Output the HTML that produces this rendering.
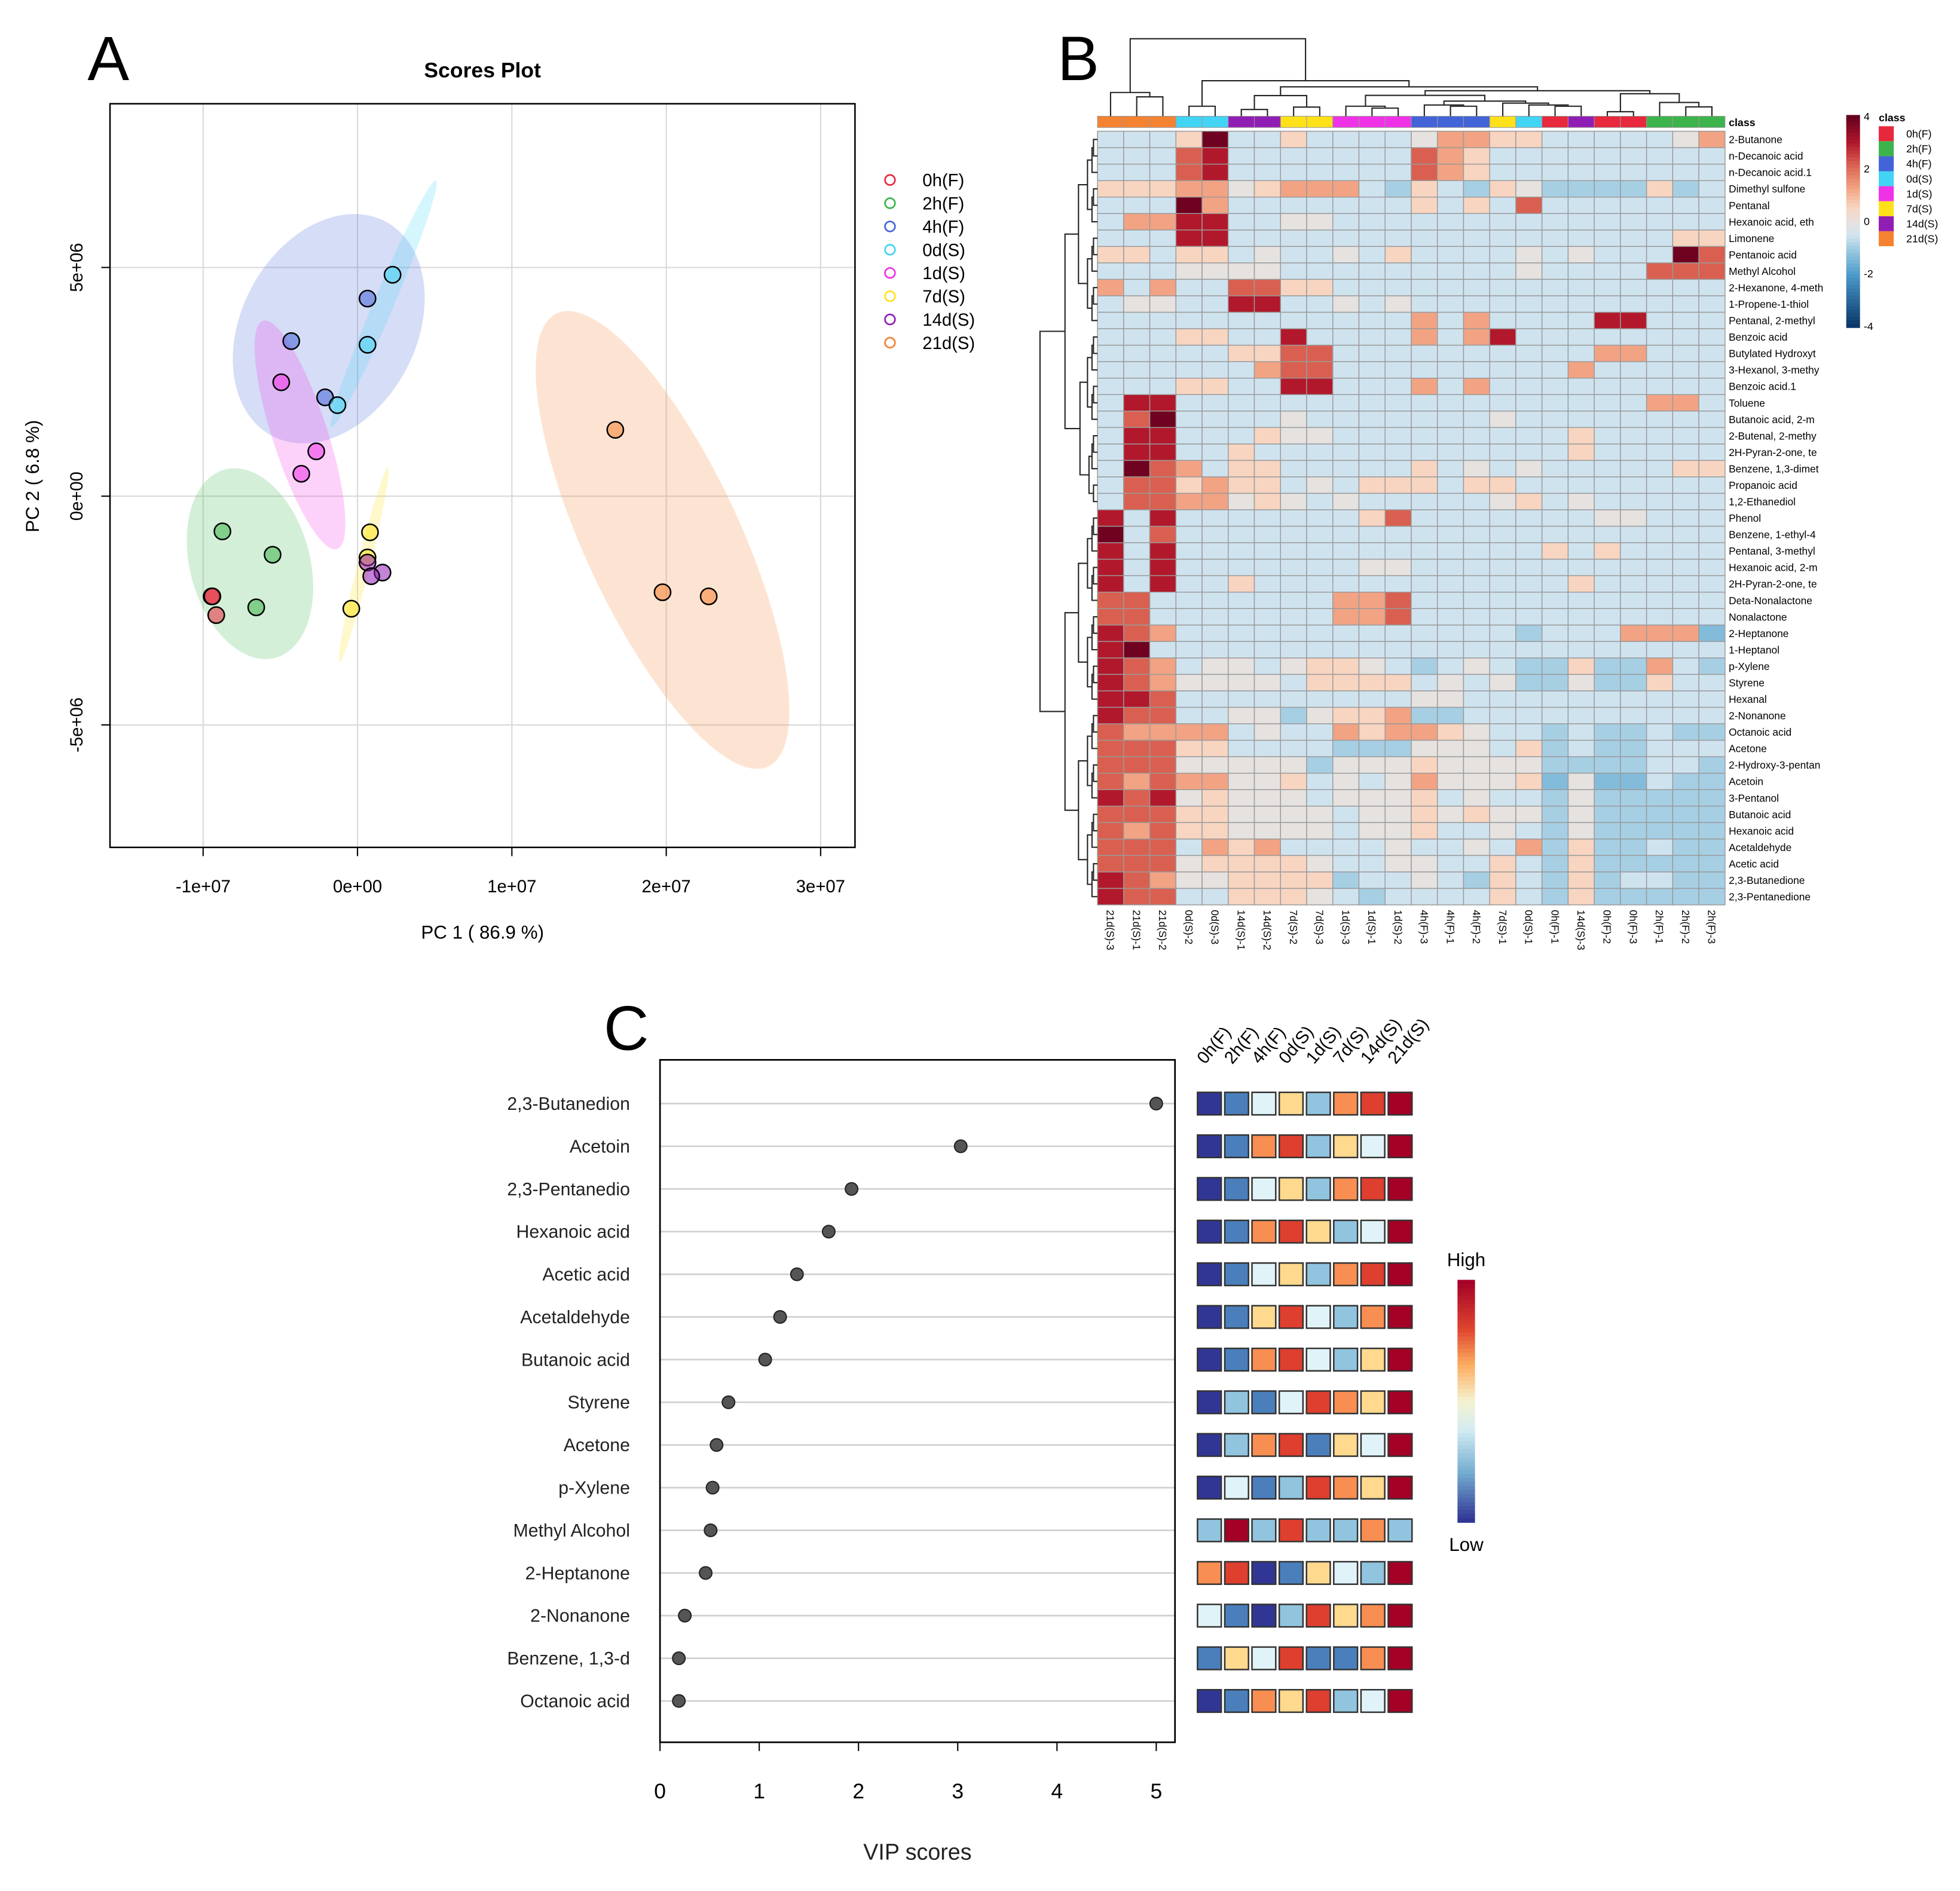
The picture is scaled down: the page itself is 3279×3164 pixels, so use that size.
<!DOCTYPE html>
<html><head><meta charset="utf-8"><style>
html,body{margin:0;padding:0;background:#fff;}
svg{display:block;font-family:"Liberation Sans",Arial,sans-serif;}
</style></head><body>
<svg id="fig" xmlns="http://www.w3.org/2000/svg" width="3279" height="3164" viewBox="0 0 1568 1513" preserveAspectRatio="none">
<rect width="1568" height="1513" fill="#fff"/>
<g id="pA"></g>
<g id="pB"></g>
<g id="pC"></g>
</svg>
<script>
// ---------- Panel A data ----------
const groupNames = ["0h(F)","2h(F)","4h(F)","0d(S)","1d(S)","7d(S)","14d(S)","21d(S)"];
const groupColors = ["#e8283c","#3cb44b","#4363d8","#42d4f4","#f032e6","#ffe119","#911eb4","#f58231"];
const pc1X = [[-9.45,-9.4,-9.15],[-8.75,-5.5,-6.56],[-4.29,0.65,-2.1],[2.27,0.65,-1.3],[-4.94,-2.67,-3.64],[0.81,0.65,-0.4],[0.65,1.62,0.89],[16.7,19.76,22.75]];
const pc2Y = [[-2.19,-2.19,-2.6],[-0.77,-1.28,-2.43],[3.39,4.32,2.16],[4.84,3.31,1.99],[2.49,0.98,0.49],[-0.79,-1.34,-2.46],[-1.45,-1.67,-1.75],[1.45,-2.1,-2.19]];
const xTicksA = [-10,0,10,20,30];
const xTickLabelsA = ["-1e+07","0e+00","1e+07","2e+07","3e+07"];
const yTicksA = [5,0,-5];
const yTickLabelsA = ["5e+06","0e+00","-5e+06"];

// ---------- Panel B data ----------
const hmCols = ["21d(S)-3","21d(S)-1","21d(S)-2","0d(S)-2","0d(S)-3","14d(S)-1","14d(S)-2","7d(S)-2","7d(S)-3","1d(S)-3","1d(S)-1","1d(S)-2","4h(F)-3","4h(F)-1","4h(F)-2","7d(S)-1","0d(S)-1","0h(F)-1","14d(S)-3","0h(F)-2","0h(F)-3","2h(F)-1","2h(F)-2","2h(F)-3"];
const hmColClass = [7,7,7,3,3,6,6,5,5,4,4,4,2,2,2,5,3,0,6,0,0,1,1,1];
const hmRows = ["2-Butanone","n-Decanoic acid","n-Decanoic acid.1","Dimethyl sulfone","Pentanal","Hexanoic acid, eth","Limonene","Pentanoic acid","Methyl Alcohol","2-Hexanone, 4-meth","1-Propene-1-thiol","Pentanal, 2-methyl","Benzoic acid","Butylated Hydroxyt","3-Hexanol, 3-methy","Benzoic acid.1","Toluene","Butanoic acid, 2-m","2-Butenal, 2-methy","2H-Pyran-2-one, te","Benzene, 1,3-dimet","Propanoic acid","1,2-Ethanediol","Phenol","Benzene, 1-ethyl-4","Pentanal, 3-methyl","Hexanoic acid, 2-m","2H-Pyran-2-one, te","Deta-Nonalactone","Nonalactone","2-Heptanone","1-Heptanol","p-Xylene","Styrene","Hexanal","2-Nonanone","Octanoic acid","Acetone","2-Hydroxy-3-pentan","Acetoin","3-Pentanol","Butanoic acid","Hexanoic acid","Acetaldehyde","Acetic acid","2,3-Butanedione","2,3-Pentanedione"];
const hmCodes = [
"...pD..p....woopp.....wo","...rR.......rop.........","...rR.......rop.........","pppoowpooo.bp.bpwbbbbpb.",
"...Do.......p.p.r.......",".ooRR..ww...............","...RR.................pp","pp.pp.w..w.p....w.w...Dr",
"...wwww.........w....rrr","o.o..rrpp...............",".ww..RR..w.w............","............o.o....RR...",
"...pp..R....o.oR........",".....pprr..........oo...","......orr.........o.....","...pp..RR...o.o.........",
".RR..................oo.",".rD....w.......w........",".RR...pww.........p.....",".RR..p............p.....",
".Dro.pp.....p.w.w.....pp",".rrpopp.w.ppp.pp........",".rroowpw.w.....wp.w.....","R.R.......pr.......ww...",
"D.r.....................","R.R..............p.p....","R.R.......ww............","R.R..p............p.....",
"rr.......oor............","rr.......oor............","Rro.............b...oooB","RD......................",
"Rro.ww.wppw.b.w.bbpbbo.b","Rrowwww.pppp.w.wbbwbbp..","RRr.........ww..........","Rrr..wwbwppobb..........",
"roooo.w..opoopw..b.bb.bb","rrrpp....bbbwww.pb.bb...","rrrwwwwwbwwwpwwwwbbbb..b","roroowwp.w.wowwwpBwBB.bb",
"RrRwpwww.wwwp.w..bwbbbbb","rrrppwwww.wwpwpwwbwbbbbb","rorppwwww.wwp..w.bwbbbbb","rrr.opo....w..w.obpbb.bb",
"rrrwppppw..ww..p.bpbbbbb","Rrowwppppb..w.bp.bpb..bb","Rrr..pppw.b....p.bpbbbbb"];
const codeValue = {"B":-1.3,"b":-0.9,".":-0.5,"w":0,"p":0.6,"o":1.3,"r":2.2,"R":3.0,"D":3.9};
const hmScaleTicks = [4,2,0,-2,-4];

// ---------- Panel C data ----------
const vipNames = ["2,3-Butanedion","Acetoin","2,3-Pentanedio","Hexanoic acid","Acetic acid","Acetaldehyde","Butanoic acid","Styrene","Acetone","p-Xylene","Methyl Alcohol","2-Heptanone","2-Nonanone","Benzene, 1,3-d","Octanoic acid"];
const vipScores = [5.0,3.03,1.93,1.7,1.38,1.21,1.06,0.69,0.57,0.53,0.51,0.46,0.25,0.19,0.19];
const vipGroups = ["0h(F)","2h(F)","4h(F)","0d(S)","1d(S)","7d(S)","14d(S)","21d(S)"];
const vipLevels = [
[1,2,4,5,3,6,7,8],[1,2,6,7,3,5,4,8],[1,2,4,5,3,6,7,8],[1,2,6,7,5,3,4,8],[1,2,4,5,3,6,7,8],
[1,2,5,7,4,3,6,8],[1,2,6,7,4,3,5,8],[1,3,2,4,7,6,5,8],[1,3,6,7,2,5,4,8],[1,4,2,3,7,6,5,8],
[3,8,3,7,3,3,6,3],[6,7,1,2,5,4,3,8],[4,2,1,3,7,5,6,8],[2,5,4,7,2,2,6,8],[1,2,6,5,7,3,4,8]];
const vipXTicks = [0,1,2,3,4,5];

// ---------- helpers ----------
const NS="http://www.w3.org/2000/svg";
function mk(parent,tag,attrs,text){const e=document.createElementNS(NS,tag);for(const k in attrs)e.setAttribute(k,attrs[k]);if(text!==undefined)e.textContent=text;parent.appendChild(e);return e;}
function hex2rgb(h){return [parseInt(h.slice(1,3),16),parseInt(h.slice(3,5),16),parseInt(h.slice(5,7),16)];}
function interp(stops,v){if(v<=stops[0][0])return stops[0][1];for(let i=1;i<stops.length;i++){if(v<=stops[i][0]){const a=stops[i-1],b=stops[i];const t=(v-a[0])/(b[0]-a[0]);const c1=hex2rgb(a[1]),c2=hex2rgb(b[1]);return "rgb("+c1.map((c,j)=>Math.round(c+(c2[j]-c)*t)).join(",")+")";}}return stops[stops.length-1][1];}
const hmStops=[[-4,"#053061"],[-2,"#4a98c9"],[-1,"#9ccae1"],[-0.5,"#cfe3ef"],[0,"#e6e2df"],[0.6,"#f8d5c1"],[1.3,"#f2a383"],[2.2,"#d96050"],[3,"#b2182b"],[4,"#67001f"]];
const vipPalette=["#313695","#4a7fbc","#91c4de","#e0f3f8","#fed98e","#f98e52","#de3f2e","#a50026"];

// ================= Panel A =================
(function(){
const g=document.getElementById("pA");
const L=88,R=684,T=83,B=678;
const sx=v=>286+v*12.35, sy=v=>397-v*36.6;
let t=mk(g,"text",{x:70,y:64,"font-size":50});t.textContent="A";


t=mk(g,"text",{x:386,y:62,"font-size":17,"font-weight":"bold","text-anchor":"middle"},"Scores Plot");


xTicksA.forEach((v,i)=>{const x=sx(v);
 const l=mk(g,"line",{x1:x,y1:T,x2:x,y2:B,stroke:"#d9d9d9","stroke-width":1});
 
 
 mk(g,"line",{x1:x,y1:B,x2:x,y2:B+7,stroke:"#000"});
 const tx=mk(g,"text",{x:x,y:B+36,"font-size":14,"text-anchor":"middle"},xTickLabelsA[i]);
 
 
});
yTicksA.forEach((v,i)=>{const y=sy(v);
 const l=mk(g,"line",{x1:L,y1:y,x2:R,y2:y,stroke:"#d9d9d9","stroke-width":1});
 
 
 mk(g,"line",{x1:L-7,y1:y,x2:L,y2:y,stroke:"#000"});
 const tx=mk(g,"text",{x:0,y:0,"font-size":14,"text-anchor":"middle",transform:`translate(${L-22},${y}) rotate(-90)`},yTickLabelsA[i]);
 
 
});
const ells=[[200,451,48,78,-15,1],[263,263,70,97,28,2],[240,348,22,96,-18,4],[307,243,8,107,23,3],[291,452,5,80,14,5],[530,432,62,200,-25,7]];
ells.forEach(e=>{const el=mk(g,"ellipse",{cx:e[0],cy:e[1],rx:e[2],ry:e[3],transform:`rotate(${e[4]} ${e[0]} ${e[1]})`,fill:groupColors[e[5]],"fill-opacity":0.22});
 
 });
pc1X.forEach((xs,gi)=>xs.forEach((xv,j)=>{
 const c=mk(g,"circle",{cx:sx(xv),cy:sy(pc2Y[gi][j]),r:6.5,fill:groupColors[gi],"fill-opacity":0.55,stroke:"#000","stroke-width":1.2});
 
 
}));
const fr=mk(g,"rect",{x:L,y:T,width:R-L,height:B-T,fill:"none",stroke:"#000","stroke-width":1.2});


t=mk(g,"text",{x:386,y:751,"font-size":15,"text-anchor":"middle"},"PC 1 ( 86.9 %)");


t=mk(g,"text",{x:0,y:0,"font-size":15,"text-anchor":"middle",transform:"translate(31,381) rotate(-90)"},"PC 2 ( 6.8 %)");


groupNames.forEach((n,i)=>{const y=144+i*18.6;
 const c=mk(g,"circle",{cx:712,cy:y,r:4,fill:"none",stroke:groupColors[i],"stroke-width":1.3});
 
 
 const tx=mk(g,"text",{x:738,y:y+5,"font-size":14},n);
 
 
});
})();

// ================= Panel B =================
(function(){
const g=document.getElementById("pB");
const X0=878,Y0=105,cw=502/24,rh=619/47;
let t=mk(g,"text",{x:846,y:64,"font-size":50},"B");


// class bar
hmColClass.forEach((c,i)=>{const r=mk(g,"rect",{x:X0+i*cw,y:93,width:cw,height:9,fill:groupColors[c],stroke:"#999","stroke-width":0.5});
 
 });
t=mk(g,"text",{x:1383,y:101,"font-size":8.5,"font-weight":"bold"},"class");


// cells
hmCodes.forEach((row,ri)=>{for(let ci=0;ci<24;ci++){
 const v=codeValue[row[ci]];
 const r=mk(g,"rect",{x:X0+ci*cw,y:Y0+ri*rh,width:cw,height:rh,fill:interp(hmStops,v),stroke:"#9a9a9a","stroke-width":0.7});
 
 
}});
hmRows.forEach((n,ri)=>{const tx=mk(g,"text",{x:1383,y:Y0+ri*rh+rh/2+3,"font-size":8.3},n);
 
 });
hmCols.forEach((n,ci)=>{const x=X0+ci*cw+cw/2;
 const tx=mk(g,"text",{x:0,y:0,"font-size":8.3,transform:`translate(${x-3},${728}) rotate(90)`},n);
 
 });
// column dendrogram
const cx=i=>X0+i*cw+cw/2;
const nodes={};
function leaf(i){return {x:cx(i),y:93};}
function join(a,b,h){const p=mk(g,"path",{d:`M${a.x},${a.y}V${h}H${b.x}V${b.y}`,fill:"none",stroke:"#222","stroke-width":1});
 
 
 return {x:(a.x+b.x)/2,y:h};}
const A=join(leaf(1),leaf(2),77.5), Bn=join(leaf(0),A,74);
const C=join(leaf(3),leaf(4),85);
const D=join(leaf(5),leaf(6),87.6), E=join(leaf(7),leaf(8),85.7), F=join(D,E,76.5);
const G=join(leaf(10),leaf(11),86.5), H=join(leaf(9),G,85);
const I=join(leaf(13),leaf(14),85), J=join(leaf(12),I,84);
const K=join(leaf(17),leaf(18),85), L2=join(leaf(16),K,84), M=join(leaf(15),L2,82.5);
const N=join(J,M,80.9), O=join(H,N,76.3);
const P=join(leaf(19),leaf(20),89.4), Gr=join(leaf(22),leaf(23),85.5), Gr2=join(leaf(21),Gr,82), Q=join(P,Gr2,75);
const Rn=join(O,Q,72.6), S=join(F,Rn,69.5), T=join(C,S,64.6); join(Bn,T,31);
// row dendrogram (decorative)
const ry=i=>Y0+i*rh+rh/2;
function rjoin(a,b,x){const p=mk(g,"path",{d:`M${a.x},${a.y}H${x}V${b.y}H${b.x}`,fill:"none",stroke:"#222","stroke-width":1});
 
 
 return {x:x,y:(a.y+b.y)/2};}
function build(lo,hi,depth){if(lo===hi)return {x:878,y:ry(lo)};const mid=Math.floor((lo+hi)/2);const a=build(lo,mid,depth+1),b=build(mid+1,hi,depth+1);return rjoin(a,b,Math.max(852,876-(hi-lo)*1.2));}
const top=build(0,22,0), bot=build(23,46,0);
rjoin(top,bot,832);
// color scale
for(let k=0;k<60;k++){const v=4-k*8/60;const r=mk(g,"rect",{x:1477,y:92+k*170/60,width:11,height:170/60+0.4,fill:interp(hmStops,v)});
 
 }
hmScaleTicks.forEach((v,i)=>{const tx=mk(g,"text",{x:1491,y:96+i*42,"font-size":8.5},String(v));
 
 });
t=mk(g,"text",{x:1503,y:97,"font-size":8.5,"font-weight":"bold"},"class");


groupNames.forEach((n,i)=>{const y=101+i*12;
 const r=mk(g,"rect",{x:1503,y:y,width:12,height:12,fill:groupColors[i]});
 
 
 const tx=mk(g,"text",{x:1525,y:y+9,"font-size":8.5},n);
 
 });
})();

// ================= Panel C =================
(function(){
const g=document.getElementById("pC");
const L=528,R=940,T=848,B=1394;
const sx=v=>L+v*79.4, sy=i=>883+i*34.14;
let t=mk(g,"text",{x:483,y:840,"font-size":50},"C");


vipNames.forEach((n,i)=>{const y=sy(i);
 const l=mk(g,"line",{x1:L,y1:y,x2:R,y2:y,stroke:"#d0d0d0","stroke-width":1.3});
 
 
 const tx=mk(g,"text",{x:504,y:y+5,"font-size":14.5,"text-anchor":"end",fill:"#222"},n);
 
 
 const c=mk(g,"circle",{cx:sx(vipScores[i]),cy:y,r:5,fill:"#555",stroke:"#222","stroke-width":1});
 
 
 vipLevels[i].forEach((lv,j)=>{const r=mk(g,"rect",{x:958+j*21.8,y:y-9,width:19,height:18,fill:vipPalette[lv-1],stroke:"#333","stroke-width":1.2});
  
  });
});
const fr=mk(g,"rect",{x:L,y:T,width:R-L,height:B-T,fill:"none",stroke:"#000","stroke-width":1.3});


vipXTicks.forEach(v=>{const x=sx(v);mk(g,"line",{x1:x,y1:B,x2:x,y2:B+7,stroke:"#000"});
 const tx=mk(g,"text",{x:x,y:B+45,"font-size":17,"text-anchor":"middle"},String(v));
 
 });
t=mk(g,"text",{x:734,y:1488,"font-size":18,"text-anchor":"middle",fill:"#222"},"VIP scores");


vipGroups.forEach((n,j)=>{const x=958+j*21.8+6;
 const tx=mk(g,"text",{x:0,y:0,"font-size":14,transform:`translate(${x},${852}) rotate(-50)`},n);
 
 });
for(let k=0;k<60;k++){const r=mk(g,"rect",{x:1166,y:1024+k*194/60,width:14,height:194/60+0.4,fill:interp([[0,"#a50026"],[0.2,"#e0462f"],[0.35,"#fdae61"],[0.5,"#f4f2d0"],[0.62,"#d3ecf3"],[0.8,"#74add1"],[1,"#313695"]],k/59)});
 
 }
t=mk(g,"text",{x:1173,y:1013,"font-size":15,"text-anchor":"middle"},"High");


t=mk(g,"text",{x:1173,y:1241,"font-size":15,"text-anchor":"middle"},"Low");


})();
</script>
</body></html>
